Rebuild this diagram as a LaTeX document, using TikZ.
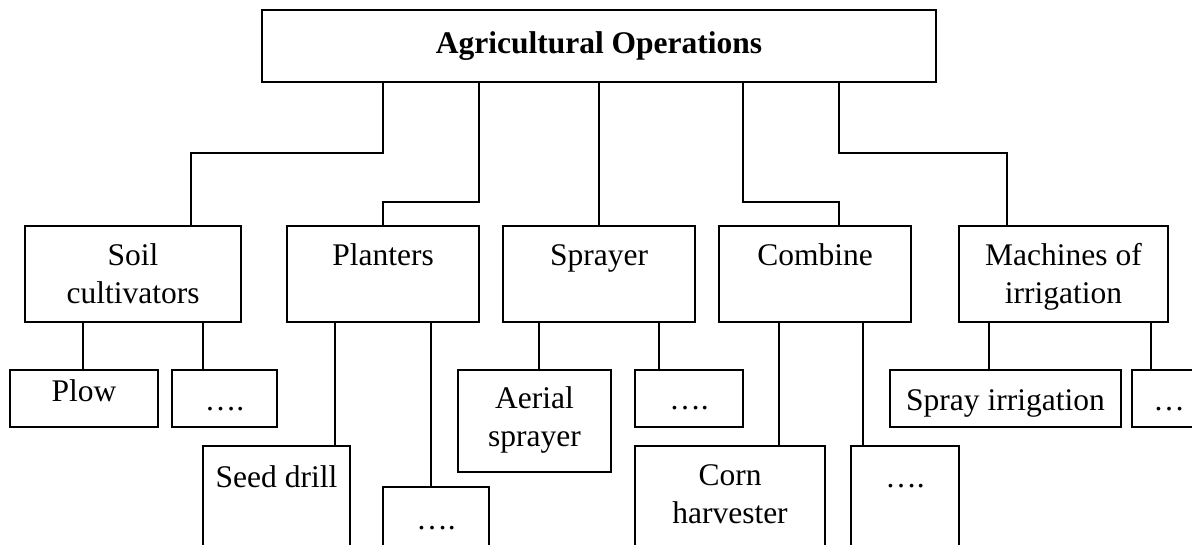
\documentclass[tikz,border=0pt]{standalone}
\usepackage{fontspec}
\setmainfont{Liberation Serif}
\begin{document}
\begin{tikzpicture}[x=1pt,y=-1pt,
  box/.style={draw,line width=1.8pt,rectangle,inner sep=0pt,outer sep=0pt,anchor=north west},
  txt/.style={inner sep=0pt,font=\fontsize{31.5}{37.5}\selectfont,align=center},
  conn/.style={line width=1.8pt}]
\useasboundingbox (0,0) rectangle (1192,544);
\clip (0,0) rectangle (1192,544);
\fill[white] (0,0) rectangle (1192,544);
% level 1
\node[box,minimum width=674pt,minimum height=72pt,font=\fontsize{31.5}{37.5}\selectfont\bfseries] (top) at (262,10) {Agricultural Operations};
% level 2
\node[box,minimum width=216pt,minimum height=96pt] (soil) at (25,226) {};
\node[box,minimum width=192pt,minimum height=96pt] (planters) at (287,226) {};
\node[box,minimum width=192pt,minimum height=96pt] (sprayer) at (503,226) {};
\node[box,minimum width=192pt,minimum height=96pt] (combine) at (719,226) {};
\node[box,minimum width=209pt,minimum height=96pt] (machines) at (959,226) {};
% level 3
\node[box,minimum width=148pt,minimum height=57pt] (plow) at (10,370) {};
\node[box,minimum width=105pt,minimum height=57pt] (sdots) at (172,370) {};
\node[box,minimum width=147pt,minimum height=120pt] (seed) at (203,446) {};
\node[box,minimum width=106pt,minimum height=80pt] (pdots) at (383,487) {};
\node[box,minimum width=153pt,minimum height=102pt] (aerial) at (458,370) {};
\node[box,minimum width=108pt,minimum height=57pt] (spdots) at (635,370) {};
\node[box,minimum width=190pt,minimum height=120pt] (corn) at (635,446) {};
\node[box,minimum width=108pt,minimum height=120pt] (cdots) at (851,446) {};
\node[box,minimum width=231pt,minimum height=57pt] (sprayirr) at (890,370) {};
\node[box,minimum width=100pt,minimum height=57pt] (mdots) at (1132,370) {};
% texts
\node[txt,anchor=north] (soilT) at (133,243.5) {Soil\\cultivators};
\node[txt,anchor=base] (plantersT) at (383,265) {Planters};
\node[txt,anchor=base] (sprayerT) at (599,265) {Sprayer};
\node[txt,anchor=base] (combineT) at (815,265) {Combine};
\node[txt,anchor=north] (machinesT) at (1063.5,243.5) {Machines of\\irrigation};
\node[txt,anchor=base] (plowT) at (84,401) {Plow};
\node[txt,anchor=base] (sdotsT) at (224.5,410) {….};
\node[txt,anchor=base] (seedT) at (276.5,487) {Seed drill};
\node[txt,anchor=base] (pdotsT) at (436,529) {….};
\node[txt,anchor=north] (aerialT) at (534.5,386.5) {Aerial\\sprayer};
\node[txt,anchor=base] (spdotsT) at (689,409) {….};
\node[txt,anchor=north] (cornT) at (730,464.7) {Corn\\harvester};
\node[txt,anchor=base] (cdotsT) at (905,487) {….};
\node[txt,anchor=base] (sprayirrT) at (1005.5,410) {Spray irrigation};
\node[txt,anchor=base] (mdotsT) at (1169,410) {…};
% level 1 -> 2
\draw[conn] ([xshift=121pt]top.south west) -- ++(0,71) -| ([xshift=166pt]soil.north west);
\draw[conn] ([xshift=217pt]top.south west) -- ++(0,120) -| (planters.north);
\draw[conn] (top.south) -- (sprayer.north);
\draw[conn] ([xshift=481pt]top.south west) -- ++(0,120) -| ([xshift=120pt]combine.north west);
\draw[conn] ([xshift=577pt]top.south west) -- ++(0,71) -| ([xshift=48pt]machines.north west);
% level 2 -> 3
\newcommand\dropline[3]{\draw[conn] ([xshift=#2]#1.south west) coordinate (tmp) -- (tmp |- #3.north);}
\dropline{soil}{58pt}{plow}
\dropline{soil}{178pt}{sdots}
\dropline{planters}{48pt}{seed}
\dropline{planters}{144pt}{pdots}
\dropline{sprayer}{36pt}{aerial}
\dropline{sprayer}{156pt}{spdots}
\dropline{combine}{60pt}{corn}
\dropline{combine}{144pt}{cdots}
\dropline{machines}{30pt}{sprayirr}
\dropline{machines}{192pt}{mdots}
\end{tikzpicture}
\end{document}
